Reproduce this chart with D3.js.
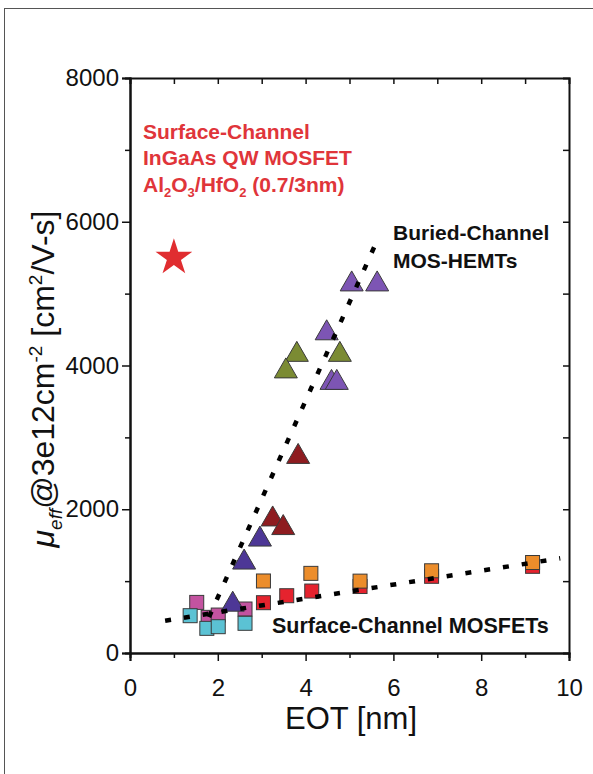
<!DOCTYPE html>
<html lang="en">
<head>
  <meta charset="UTF-8">
  <title>Mobility vs EOT</title>
  <script src="https://d3js.org/d3.v7.min.js"></script>
  <style>
    body { margin: 0; background: #fff; font-family: Arial, "Liberation Sans", sans-serif; }
    svg { display: block; }
  </style>
</head>
<body>
<div id="chart"></div>
<script>
  // values: [EOT nm, mobility cm2/V-s]
  const xTicks = [0, 2, 4, 6, 8, 10];
  const yTicks = [0, 2000, 4000, 6000, 8000];

  const starPoint = [[1.0, 5500]];
  const purpleTri = [[5.05, 5170], [5.63, 5170], [4.48, 4490], [4.59, 3800], [4.71, 3800]];
  const greenTri = [[3.80, 4190], [3.55, 3960], [4.78, 4190]];
  const darkRedTri = [[3.83, 2770], [3.25, 1900], [3.49, 1780]];
  const indigoTri = [[2.96, 1620], [2.60, 1300], [2.34, 714]];
  const redSq = [[3.04, 700], [3.57, 797], [4.14, 862], [5.24, 925], [6.87, 1067], [9.17, 1206]];
  const orangeSq = [[3.04, 1002], [4.12, 1108], [5.24, 1000], [6.87, 1144], [9.17, 1259]];
  const magentaSq = [[1.52, 704], [1.78, 496], [2.01, 528], [2.62, 612]];
  const cyanSq = [[1.37, 519], [1.75, 343], [2.01, 366], [2.62, 413]];

  // dotted guide lines
  const buriedFit = [[1.8, 500], [5.6, 5700]];
  const surfaceFit = [[0.8, 450], [9.8, 1318]];

  const width = 593, height = 774;
  const margin = { top: 78, right: 24, bottom: 121, left: 130 };

  const svg = d3.select("#chart").append("svg")
    .attr("width", width)
    .attr("height", height);

  // outer frame of the figure panel
  svg.append("rect")
    .attr("x", 4.5).attr("y", 8.5)
    .attr("width", 700).attr("height", 900)
    .attr("fill", "none")
    .attr("stroke", "#555")
    .attr("stroke-width", 1);

  const x = d3.scaleLinear().domain([0, 10]).range([margin.left, width - margin.right]);
  const y = d3.scaleLinear().domain([0, 8000]).range([height - margin.bottom, margin.top]);

  const axisFont = 'Arial, "Liberation Sans", sans-serif';

  // bottom axis: majors with labels, minors, outward
  const gx = svg.append("g").attr("transform", `translate(0,${y(0)})`);
  gx.call(d3.axisBottom(x).tickValues(d3.range(1, 10, 2)).tickSize(5).tickFormat(""));
  gx.call(g => g.append("g").call(d3.axisBottom(x).tickValues(xTicks).tickSize(8).tickPadding(18).tickFormat(d3.format("d"))));
  gx.selectAll("text").attr("font-size", 24).attr("font-family", axisFont).attr("fill", "#111");

  // left axis
  const gy = svg.append("g").attr("transform", `translate(${x(0)},0)`);
  gy.call(d3.axisLeft(y).tickValues(d3.range(1000, 8000, 2000)).tickSize(5).tickFormat(""));
  gy.call(g => g.append("g").call(d3.axisLeft(y).tickValues(yTicks).tickSize(8).tickPadding(3).tickFormat(d3.format("d"))));
  gy.selectAll("text").attr("font-size", 24).attr("font-family", axisFont).attr("fill", "#111");

  // top and right axes, ticks inward
  svg.append("g").attr("transform", `translate(0,${y(8000)})`)
    .call(d3.axisTop(x).tickValues(d3.range(1, 10)).tickSize(-6).tickFormat(""));
  svg.append("g").attr("transform", `translate(${x(10)},0)`)
    .call(d3.axisRight(y).tickValues(d3.range(1000, 8000, 1000)).tickSize(-6).tickFormat(""));

  svg.selectAll(".domain").attr("stroke", "#111").attr("stroke-width", 2);
  svg.selectAll(".tick line").attr("stroke", "#111").attr("stroke-width", 1.5);

  // axis titles
  svg.append("text")
    .attr("x", 351).attr("y", 729)
    .attr("text-anchor", "middle")
    .attr("font-size", 31).attr("fill", "#111")
    .text("EOT [nm]");

  const yt = svg.append("text")
    .attr("transform", "translate(54,379) rotate(-90)")
    .attr("text-anchor", "middle")
    .attr("font-size", 32).attr("fill", "#111");
  yt.append("tspan").attr("font-style", "italic").text("\u03bc");
  yt.append("tspan").attr("font-style", "italic").attr("font-size", 19).attr("dy", 8).text("eff");
  yt.append("tspan").attr("dy", -8).text("@3e12cm");
  yt.append("tspan").attr("font-size", 19).attr("dy", -12).text("-2");
  yt.append("tspan").attr("dy", 12).text(" [cm");
  yt.append("tspan").attr("font-size", 19).attr("dy", -12).text("2");
  yt.append("tspan").attr("dy", 12).text("/V-s]");

  // markers
  const triPath = "M0,-10.5L11.5,9.5L-11.5,9.5Z";
  const sq = 14;

  function squares(data, color) {
    svg.append("g").selectAll("rect").data(data).join("rect")
      .attr("x", d => x(d[0]) - sq / 2)
      .attr("y", d => y(d[1]) - sq / 2)
      .attr("width", sq).attr("height", sq)
      .attr("fill", color)
      .attr("stroke", "#3a3a3a").attr("stroke-width", 1);
  }

  function triangles(data, color) {
    svg.append("g").selectAll("path").data(data).join("path")
      .attr("transform", d => `translate(${x(d[0])},${y(d[1])})`)
      .attr("d", triPath)
      .attr("fill", color)
      .attr("stroke", "#3a3a3a").attr("stroke-width", 1);
  }

  squares(redSq, "#e5232e");
  squares(orangeSq, "#ec8d2b");
  squares(magentaSq, "#c353a0");
  squares(cyanSq, "#5bc2d4");
  triangles(darkRedTri, "#8e1c20");
  triangles(indigoTri, "#4d3796");
  triangles(greenTri, "#7b8b33");
  triangles(purpleTri, "#7d55b4");

  svg.append("g").selectAll("path").data(starPoint).join("path")
    .attr("transform", d => `translate(${x(d[0])},${y(d[1])})`)
    .attr("d", d3.symbol(d3.symbolStar, 420)())
    .attr("fill", "#e02d30");

  // dotted fits drawn over the markers
  const line = d3.line().x(d => x(d[0])).y(d => y(d[1]));
  [buriedFit, surfaceFit].forEach(f => {
    svg.append("path")
      .attr("d", line(f))
      .attr("fill", "none")
      .attr("stroke", "#000")
      .attr("stroke-width", 4.5)
      .attr("stroke-dasharray", "6,13");
  });

  // annotations
  const red = svg.append("g").attr("fill", "#e0353a").attr("font-size", 21).attr("font-weight", "bold");
  red.append("text").attr("x", 143).attr("y", 139).text("Surface-Channel");
  red.append("text").attr("x", 143).attr("y", 165).text("InGaAs QW MOSFET");
  const t3 = red.append("text").attr("x", 143).attr("y", 192);
  t3.append("tspan").text("Al");
  t3.append("tspan").attr("font-size", 13).attr("dy", 5).text("2");
  t3.append("tspan").attr("dy", -5).text("O");
  t3.append("tspan").attr("font-size", 13).attr("dy", 5).text("3");
  t3.append("tspan").attr("dy", -5).text("/HfO");
  t3.append("tspan").attr("font-size", 13).attr("dy", 5).text("2");
  t3.append("tspan").attr("dy", -5).text(" (0.7/3nm)");

  const blk = svg.append("g").attr("fill", "#111").attr("font-size", 21).attr("font-weight", "bold");
  blk.append("text").attr("x", 393).attr("y", 240).text("Buried-Channel");
  blk.append("text").attr("x", 393).attr("y", 268).text("MOS-HEMTs");
  blk.append("text").attr("x", 272).attr("y", 633).attr("font-size", 21.5).text("Surface-Channel MOSFETs");
</script>
</body>
</html>
